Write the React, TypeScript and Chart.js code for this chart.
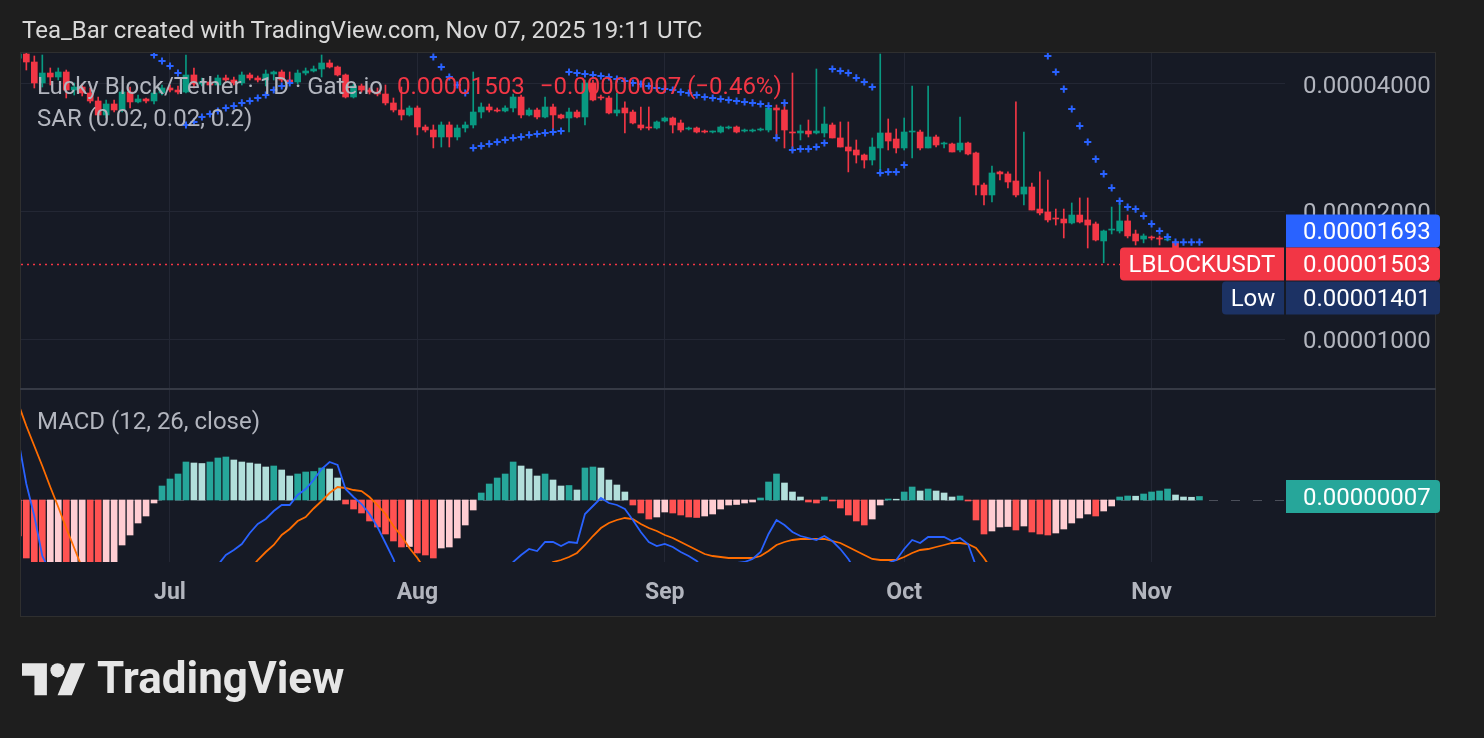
import React, { useEffect, useRef } from 'react';
import { Chart, registerables } from 'chart.js';

Chart.register(...registerables);

// Daily candles, index 0 = 12 Jun 2025 (day -19 relative to 1 Jul 2025). Prices in units of 1e-8 USDT.
const FIRST_DAY = -19;
const PRICE_UNIT = 1e-8;

const OPEN = [
  4600,
  4708, 4508, 4022, 4246, 4155, 4270, 3871, 3935, 3809, 3647,
  3380, 3588, 3473, 3829, 3628, 3687, 3647, 3809, 3914, 3871,
  3829, 4201, 4000, 4044, 3978, 4133, 4088, 4022, 4201, 4133,
  4088, 4224, 4270, 4088, 4044, 4246, 4293, 4340, 4484, 4387,
  4201, 3727, 3957, 3871, 3829, 3788, 3608, 3473, 3380, 3511,
  3166, 3115, 2999, 3201, 2999, 3149, 3201, 3435, 3530, 3473,
  3454, 3511, 3727, 3380, 3473, 3343, 3530, 3380, 3325, 3435,
  3343, 4022, 3727, 3707, 3417, 3511, 3435, 3201, 3166, 3149,
  3271, 3325, 3236, 3132, 3149, 3098, 3081, 3081, 3149, 3166,
  3098, 3098, 3115, 3115, 3511, 3473, 3081, 3065, 3098, 3065,
  3065, 3201, 2983, 2840, 2794, 2719, 2646, 2825, 3065, 2966,
  2825, 3081, 3081, 2825, 2999, 2887, 2887, 2794, 2902, 2749,
  2310, 2188, 2480, 2453, 2361, 2199, 2285, 2027, 1995, 1930,
  1920, 1879, 1962, 1910, 1869, 1704, 1808, 1799, 1900, 1770,
  1722, 1741, 1732, 1713, 1694, 1514, 1508, 1510,
];
const HIGH = [
  4800,
  4865, 4658, 4683, 4364, 4364, 4316, 4022, 4000, 3914, 3727,
  3667, 3667, 3871, 3935, 3768, 3707, 3871, 3978, 3978, 3957,
  4683, 4364, 4133, 4088, 4201, 4201, 4155, 4270, 4246, 4178,
  4316, 4293, 4316, 4270, 4316, 4364, 4411, 4683, 4558, 4411,
  4224, 4000, 4000, 3914, 3914, 3978, 3707, 3935, 3550, 3550,
  3201, 3201, 3254, 3254, 3201, 3254, 4270, 3608, 3588, 3511,
  3550, 3788, 3768, 3511, 3511, 3727, 3588, 3398, 3511, 3473,
  4088, 4088, 3768, 3748, 3809, 3628, 3473, 3530, 3530, 3271,
  3343, 3343, 3289, 3166, 3166, 3115, 3098, 3184, 3184, 3184,
  3132, 3132, 3149, 3550, 3569, 3608, 4246, 3201, 3289, 4340,
  3530, 3236, 3254, 3254, 2950, 2734, 2983, 4708, 3307, 3132,
  3325, 3957, 3115, 3957, 3032, 2918, 2902, 3343, 2918, 2764,
  2333, 2561, 2493, 2480, 3628, 3081, 2333, 2480, 2373, 2027,
  2027, 2095, 2153, 2153, 1889, 1808, 2049, 2095, 1962, 1808,
  1770, 1751, 1751, 1770, 1704, 1570, 1540, 1525,
];
const LOW = [
  4550,
  4316, 3914, 3935, 3978, 4088, 3707, 3768, 3748, 3608, 3289,
  3325, 3435, 3435, 3511, 3608, 3608, 3588, 3768, 3829, 3788,
  3809, 3914, 3957, 3935, 3957, 4044, 3978, 3978, 4088, 4044,
  3957, 4088, 4044, 4000, 4000, 4201, 4270, 4155, 4364, 4178,
  3707, 3707, 3829, 3788, 3748, 3569, 3435, 3289, 3361, 3032,
  3081, 2825, 2840, 2840, 2950, 3081, 3149, 3325, 3435, 3435,
  3435, 3435, 3325, 3361, 3307, 3325, 3081, 3307, 3081, 3325,
  3201, 3647, 3667, 3398, 3361, 3065, 3218, 3115, 3115, 3132,
  3254, 3065, 3081, 3115, 3065, 3065, 3065, 3065, 3132, 3065,
  3081, 3081, 3098, 3081, 2950, 2825, 2764, 2950, 2999, 3048,
  2999, 2983, 2840, 2480, 2603, 2533, 2575, 2439, 2794, 2749,
  2794, 2675, 2794, 2825, 2840, 2825, 2764, 2764, 2719, 2188,
  2072, 2106, 2373, 2273, 2164, 2072, 2016, 1962, 1889, 1858,
  1732, 1869, 1879, 1640, 1704, 1514, 1770, 1779, 1732, 1667,
  1686, 1713, 1667, 1704, 1514, 1401, 1480, 1495,
];
const CLOSE = [
  4708,
  4508, 4022, 4246, 4155, 4270, 3871, 3935, 3809, 3647, 3380,
  3588, 3473, 3829, 3628, 3687, 3647, 3809, 3914, 3871, 3829,
  4201, 4000, 4044, 3978, 4133, 4088, 4022, 4201, 4133, 4088,
  4224, 4270, 4088, 4044, 4246, 4293, 4340, 4484, 4387, 4201,
  3727, 3957, 3871, 3829, 3788, 3608, 3473, 3380, 3511, 3166,
  3115, 2999, 3201, 2999, 3149, 3201, 3435, 3530, 3473, 3454,
  3511, 3727, 3380, 3473, 3343, 3530, 3380, 3325, 3435, 3343,
  4022, 3667, 3707, 3417, 3473, 3417, 3236, 3149, 3149, 3254,
  3325, 3201, 3115, 3149, 3081, 3081, 3098, 3166, 3166, 3081,
  3115, 3115, 3132, 3511, 3473, 3115, 3065, 3098, 3048, 3098,
  3218, 2983, 2840, 2779, 2719, 2646, 2840, 3065, 2934, 2825,
  3081, 3098, 2825, 2999, 2871, 2902, 2764, 2902, 2734, 2310,
  2188, 2466, 2453, 2348, 2188, 2285, 2016, 1984, 1910, 1920,
  1879, 1962, 1889, 1858, 1713, 1799, 1818, 1900, 1751, 1704,
  1751, 1732, 1722, 1722, 1514, 1508, 1510, 1503,
];
// Parabolic SAR (0.02, 0.02, 0.2); null = above the visible range
const SAR = [
  null,
  null, null, null, null, null, null, null, null, null, null,
  null, null, null, null, null, null, 4683, 4533, 4411, 4246,
  3201, 3254, 3343, 3398, 3454, 3511, 3550, 3608, 3647, 3707,
  3768, 3871, 3957, 4022, null, null, null, null, null, null,
  null, null, null, null, null, null, null, null, null, null,
  null, 4632, 4387, 4155, 3978, 3809, 2825, 2856, 2887, 2918,
  2950, 2983, 2999, 3032, 3048, 3065, 3081, 3098, 4270, 4246,
  4224, 4201, 4178, 4155, 4110, 4066, 4022, 4000, 3957, 3914,
  3892, 3871, 3829, 3809, 3768, 3727, 3707, 3687, 3667, 3647,
  3628, 3608, 3588, 3550, 2983, 3608, 2794, 2810, 2810, 2840,
  2902, 4340, 4293, 4246, 4133, 4044, 3935, 2466, 2480, 2480,
  2575, null, null, null, null, null, null, null, null, null,
  null, null, null, null, null, null, null, null, 4658, 4270,
  3892, 3492, 3184, 2918, 2660, 2453, 2273, 2117, 2049, 2027,
  1952, 1869, 1799, 1741, 1693, 1693, 1693, 1693,
];
// MACD (12, 26, close), units of 1e-8
const MACD = [
  120,
  32, -32, -112, -144, -174, -226, -261, -296, -335, -370,
  -380, -356, -328, -316, -296, -282, -254, -218, -200, -186,
  -158, -156, -153, -144, -130, -110, -100, -88, -66, -48,
  -38, -22, -10, -10, 10, 22, 40, 62, 76, 70,
  22, 6, -8, -28, -54, -86, -118, -166, -189, -222,
  -250, -276, -276, -289, -281, -262, -235, -201, -181, -166,
  -154, -124, -110, -98, -102, -84, -84, -92, -84, -86,
  -28, -12, 4, -6, -10, -18, -40, -64, -84, -92,
  -88, -94, -104, -112, -122, -140, -140, -132, -128, -126,
  -124, -118, -104, -68, -40, -50, -64, -72, -76, -80,
  -72, -82, -98, -118, -144, -160, -156, -130, -126, -120,
  -98, -80, -86, -74, -74, -74, -82, -76, -88, -132,
  -184, -202, -214, -229, -252, -258, -282, -300, -316, -324,
  -326, -322, -318, -314, -322, -314, -305, -286, -282, -280,
  -273, -265, -258, -248, -254, -254, -251, -247,
];
const SIGNAL = [
  192,
  148, 108, 68, 26, -14, -56, -96, -136, -165, -190,
  -210, -226, -238, -246, -250, -250, -248, -246, -242, -238,
  -234, -230, -226, -220, -214, -196, -180, -164, -140, -120,
  -104, -90, -70, -58, -42, -34, -17, -2, 14, 26,
  24, 20, 18, 6, -10, -28, -52, -72, -96, -116,
  -140, -160, -180, -195, -205, -212, -215, -215, -213, -210,
  -206, -200, -180, -162, -150, -136, -124, -120, -114, -106,
  -90, -72, -56, -46, -40, -36, -38, -48, -56, -62,
  -70, -76, -84, -92, -100, -108, -112, -114, -116, -116,
  -116, -116, -112, -102, -90, -84, -80, -78, -78, -78,
  -78, -82, -86, -94, -102, -110, -118, -120, -120, -120,
  -114, -106, -100, -98, -94, -90, -86, -86, -88, -96,
  -116, -140, -160, -176, -192, -206, -218, -232, -246, -258,
  -268, -276, -282, -286, -290, -292, -293, -292, -290, -288,
  -285, -281, -276, -270, -264, -260, -257, -254,
];
const HIST = [
  -72,
  -116, -140, -160, -150, -140, -150, -145, -140, -150, -160,
  -150, -130, -90, -70, -46, -32, -6, 28, 42, 52,
  76, 74, 73, 76, 84, 86, 80, 76, 74, 72,
  66, 68, 60, 48, 52, 56, 57, 64, 62, 44,
  -8, -18, -26, -42, -54, -68, -82, -94, -93, -106,
  -110, -116, -96, -94, -76, -50, -20, 14, 32, 44,
  52, 76, 68, 62, 48, 52, 40, 28, 29, 20,
  64, 66, 64, 40, 30, 16, -10, -26, -38, -34,
  -24, -26, -30, -34, -35, -32, -28, -18, -10, -9,
  -6, -4, 4, 36, 52, 34, 16, 6, -4, -6,
  6, -2, -16, -30, -42, -50, -38, -10, 2, 1.6,
  16, 26, 18, 22, 18, 14, 6, 8, -2, -40,
  -68, -62, -54, -53, -60, -52, -64, -68, -70, -66,
  -58, -46, -36, -28, -32, -22, -12, 6, 8, 7.6,
  12, 16, 18, 22, 10, 6, 5.5, 7,
];

const PRICE_TICKS = [1000, 2000, 4000];
const MONTH_TICKS = [0, 31, 62, 92, 123];
const MONTH_LABELS = ['Jul', 'Aug', 'Sep', 'Oct', 'Nov'];
const SYMBOL = 'LBLOCKUSDT';
const LEGEND_TITLE = 'Lucky Block/Tether · 1D · Gate.io';
const LEGEND_CHANGE = '−0.00000007 (−0.46%)';
const SAR_TITLE = 'SAR (0.02, 0.02, 0.2)';
const MACD_TITLE = 'MACD (12, 26, close)';
const LAST_PRICE = CLOSE[CLOSE.length - 1];
const LAST_SAR = SAR[SAR.length - 1] as number;
const LOW_PRICE = Math.min(...LOW);
const LAST_HIST = HIST[HIST.length - 1];

const UP = '#089981';
const DOWN = '#F23645';
const BLUE = '#2962FF';
const ORANGE = '#FF6D00';
const PANE_BG = '#161A25';
const GRID = '#232734';
const TEXT = '#B2B5BE';
const FONT = 'Roboto, "Noto Sans", sans-serif';
const FS = 24;

const fmt = (v: number) => (v * PRICE_UNIT).toFixed(8);

const overlayPlugin = {
  id: 'tvOverlay',
  beforeDraw(chart: any) {
    const { ctx } = chart;
    ctx.save();
    ctx.fillStyle = PANE_BG;
    ctx.fillRect(20, 52, 1416, 565);
    ctx.strokeStyle = '#2F2F2F';
    ctx.lineWidth = 1;
    ctx.strokeRect(20.5, 52.5, 1415, 564);
    ctx.restore();
  },
  beforeDatasetsDraw(chart: any) {
    const { ctx, chartArea } = chart;
    const yS = chart.scales.y;
    const mS = chart.scales.m;
    ctx.save();
    const z = Math.round(mS.getPixelForValue(0)) + 0.5;
    ctx.strokeStyle = 'rgba(120,123,134,0.55)';
    ctx.lineWidth = 1;
    ctx.setLineDash([9, 13]);
    ctx.beginPath();
    ctx.moveTo(chartArea.left, z);
    ctx.lineTo(chartArea.right, z);
    ctx.stroke();
    const p = Math.round(yS.getPixelForValue(LAST_PRICE)) + 0.5;
    ctx.strokeStyle = DOWN;
    ctx.lineWidth = 1.5;
    ctx.setLineDash([2, 4]);
    ctx.beginPath();
    ctx.moveTo(chartArea.left, p);
    ctx.lineTo(chartArea.right, p);
    ctx.stroke();
    ctx.restore();
  },
  afterDraw(chart: any) {
    const { ctx } = chart;
    const yS = chart.scales.y;
    const mS = chart.scales.m;
    ctx.save();
    ctx.strokeStyle = '#363A45';
    ctx.lineWidth = 2;
    ctx.beginPath();
    ctx.moveTo(20, mS.top);
    ctx.lineTo(1436, mS.top);
    ctx.stroke();

    ctx.textBaseline = 'middle';
    ctx.textAlign = 'left';
    ctx.font = `${FS}px ${FONT}`;
    ctx.fillStyle = TEXT;
    ctx.fillText(LEGEND_TITLE, 37, 88);
    let x = 37 + ctx.measureText(LEGEND_TITLE).width + 14;
    ctx.fillStyle = DOWN;
    ctx.fillText(fmt(LAST_PRICE), x, 88);
    x += ctx.measureText(fmt(LAST_PRICE)).width + 15;
    ctx.fillText(LEGEND_CHANGE, x, 88);
    ctx.fillStyle = TEXT;
    ctx.fillText(SAR_TITLE, 37, 120);
    ctx.fillText(MACD_TITLE, 37, 423);

    const H = 33;
    const yLast = yS.getPixelForValue(LAST_PRICE);
    const box = (x0: number, top: number, w: number, color: string, radii: number[], text: string, align: 'left' | 'center') => {
      ctx.fillStyle = color;
      ctx.beginPath();
      ctx.roundRect(x0, top, w, H, radii);
      ctx.fill();
      ctx.fillStyle = '#FFFFFF';
      ctx.textAlign = align;
      ctx.fillText(text, align === 'left' ? 1303 : x0 + w / 2, top + H / 2 + 2);
    };
    const sarTop = yLast - H / 2 - H;
    const lastTop = yLast - H / 2;
    const lowTop = yLast + H / 2 + 1;
    box(1286, sarTop, 154, BLUE, [0, 4, 4, 0], fmt(LAST_SAR), 'left');
    box(1120, lastTop, 164, DOWN, [4, 0, 0, 4], SYMBOL, 'center');
    box(1286, lastTop, 154, DOWN, [0, 4, 4, 0], fmt(LAST_PRICE), 'left');
    box(1222, lowTop, 62, '#1C3264', [4, 0, 0, 4], 'Low', 'center');
    box(1286, lowTop, 154, '#1C3264', [0, 4, 4, 0], fmt(LOW_PRICE), 'left');
    const yM = mS.getPixelForValue(LAST_HIST);
    box(1286, yM - H / 2, 154, '#26A69A', [0, 4, 4, 0], fmt(LAST_HIST), 'left');
    ctx.restore();
  },
};

export default function App() {
  const ref = useRef<HTMLCanvasElement>(null);

  useEffect(() => {
    const idx = OPEN.map((_, i) => i);
    const dayOf = (i: number) => FIRST_DAY + i;
    const candleColors = idx.map((i) => (CLOSE[i] >= OPEN[i] ? UP : DOWN));
    const histColors = HIST.map((v, i) => {
      const prev = i > 0 ? HIST[i - 1] : 0;
      if (v >= 0) return v > prev ? '#26A69A' : '#B2DFDB';
      return v < prev ? '#FF5252' : '#FFCDD2';
    });

    const chart = new Chart(ref.current as HTMLCanvasElement, {
      type: 'bar',
      data: {
        datasets: [
          {
            type: 'line',
            label: 'SAR',
            yAxisID: 'y',
            data: idx.map((i) => ({ x: dayOf(i), y: SAR[i] })),
            showLine: false,
            pointStyle: 'cross',
            pointRadius: 3.6,
            pointBorderWidth: 2,
            pointBorderColor: BLUE,
            pointBackgroundColor: BLUE,
            borderColor: BLUE,
            order: 1,
          } as any,
          {
            type: 'bar',
            label: 'Body',
            yAxisID: 'y',
            data: idx.map((i) => ({ x: dayOf(i), y: [OPEN[i], CLOSE[i]] })),
            backgroundColor: candleColors,
            barThickness: 6,
            minBarLength: 1,
            grouped: false,
            order: 2,
          } as any,
          {
            type: 'bar',
            label: 'Wick',
            yAxisID: 'y',
            data: idx.map((i) => ({ x: dayOf(i), y: [LOW[i], HIGH[i]] })),
            backgroundColor: candleColors,
            barThickness: 1,
            grouped: false,
            order: 3,
          } as any,
          {
            type: 'line',
            label: 'MACD',
            yAxisID: 'm',
            data: idx.map((i) => ({ x: dayOf(i), y: MACD[i] })),
            borderColor: BLUE,
            borderWidth: 1.8,
            pointRadius: 0,
            tension: 0,
            order: 4,
          } as any,
          {
            type: 'line',
            label: 'Signal',
            yAxisID: 'm',
            data: idx.map((i) => ({ x: dayOf(i), y: SIGNAL[i] })),
            borderColor: ORANGE,
            borderWidth: 1.8,
            pointRadius: 0,
            tension: 0,
            order: 5,
          } as any,
          {
            type: 'bar',
            label: 'Histogram',
            yAxisID: 'm',
            data: idx.map((i) => ({ x: dayOf(i), y: HIST[i] })),
            backgroundColor: histColors,
            barThickness: 6,
            grouped: false,
            order: 6,
          } as any,
        ],
      },
      options: {
        animation: false,
        responsive: false,
        devicePixelRatio: 1,
        layout: { padding: { left: 21, top: 53, right: 48, bottom: 121 } },
        plugins: { legend: { display: false }, tooltip: { enabled: false } },
        scales: {
          x: {
            type: 'linear',
            min: -18.67,
            max: 139.72,
            offset: false,
            grid: { color: GRID, drawTicks: false, offset: false },
            border: { display: false },
            afterBuildTicks: (s: any) => {
              s.ticks = MONTH_TICKS.map((v) => ({ value: v }));
            },
            afterFit: (s: any) => {
              s.height = 55;
            },
            ticks: {
              autoSkip: false,
              maxRotation: 0,
              padding: 17,
              color: TEXT,
              font: { family: FONT, size: 23, weight: 'bold' },
              callback: (v: any) => {
                const k = MONTH_TICKS.indexOf(Number(v));
                return k >= 0 ? MONTH_LABELS[k] : '';
              },
            },
          },
          y: {
            type: 'logarithmic',
            position: 'right',
            stack: 'pane',
            stackWeight: 336,
            min: 762,
            max: 4734,
            grid: { color: GRID, drawTicks: false },
            border: { display: false },
            afterBuildTicks: (s: any) => {
              s.ticks = PRICE_TICKS.map((v) => ({ value: v }));
            },
            afterFit: (s: any) => {
              s.width = 151;
            },
            ticks: {
              padding: 18,
              labelOffset: 3,
              color: TEXT,
              font: { family: FONT, size: FS },
              callback: (v: any) => fmt(Number(v)),
            },
          },
          m: {
            type: 'linear',
            position: 'right',
            stack: 'pane',
            stackWeight: 173,
            min: -124,
            max: 222,
            grid: { display: false },
            border: { display: false },
            ticks: { display: false },
            afterFit: (s: any) => {
              s.width = 151;
            },
          },
        },
      } as any,
      plugins: [overlayPlugin],
    });
    return () => chart.destroy();
  }, []);

  return (
    <div
      style={{
        position: 'fixed',
        left: 0,
        top: 0,
        width: 1484,
        height: 738,
        background: '#1E1E1E',
        overflow: 'hidden',
      }}
    >
      <canvas
        ref={ref}
        width={1484}
        height={738}
        style={{ position: 'absolute', left: 0, top: 0, width: 1484, height: 738 }}
      />
      <div
        style={{
          position: 'absolute',
          left: 22,
          top: 16,
          fontFamily: FONT,
          fontSize: 24,
          lineHeight: '28px',
          color: '#D9D9D9',
          whiteSpace: 'nowrap',
        }}
      >
        Tea_Bar created with TradingView.com, Nov 07, 2025 19:11 UTC
      </div>
      <svg
        width={64}
        height={50}
        viewBox="0 0 36 28"
        style={{ position: 'absolute', left: 22, top: 656 }}
      >
        <path d="M14 22H7V11H0V4h14v18zM28 22h-8l7.5-18h8L28 22z" fill="#E6E6E6" />
        <circle cx="20" cy="8" r="4" fill="#E6E6E6" />
      </svg>
      <div
        style={{
          position: 'absolute',
          left: 97,
          top: 650,
          fontFamily: FONT,
          fontSize: 44,
          fontWeight: 700,
          lineHeight: '56px',
          color: '#E6E6E6',
          whiteSpace: 'nowrap',
        }}
      >
        TradingView
      </div>
    </div>
  );
}
